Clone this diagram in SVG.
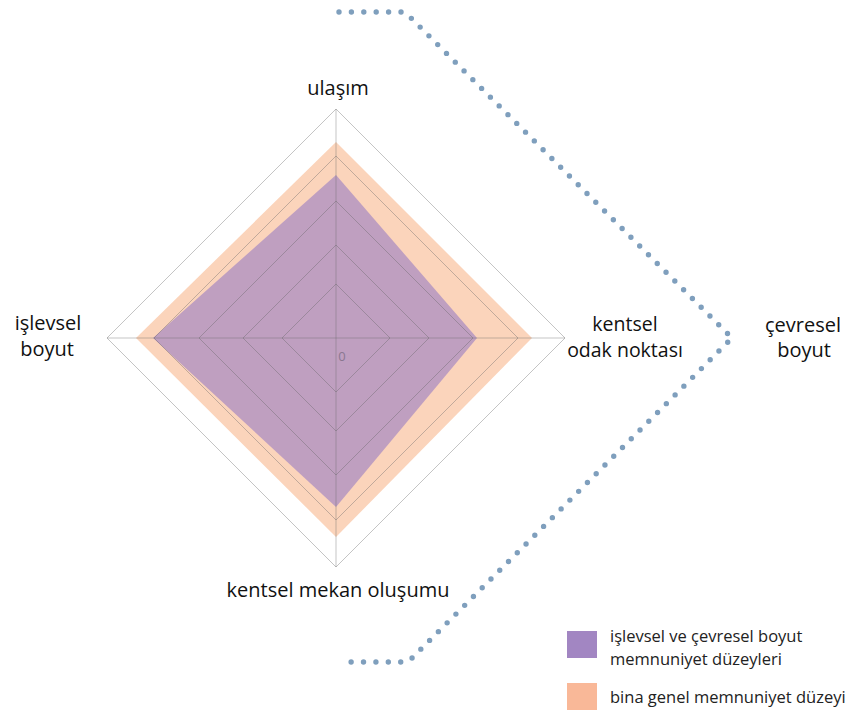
<svg xmlns="http://www.w3.org/2000/svg" width="847" height="711" viewBox="0 0 847 711">
<style>
.lbl{font-family:"Open Sans","Liberation Sans",sans-serif;font-size:20px;fill:#111;text-anchor:middle}
.leg{font-family:"Open Sans","Liberation Sans",sans-serif;font-size:16.5px;fill:#222}
.grid{fill:none;stroke:#646464;stroke-opacity:0.38;stroke-width:1}
.dots{fill:none;stroke:#7f9fbd;stroke-width:5.4;stroke-linecap:round;stroke-dasharray:0 12.4}
</style>
<rect width="847" height="711" fill="#fff"/>
<g id="chart">
<polygon id="series-bina" points="336,142 532,338 336,537 136,338" fill="#fbd4bb"/>
<polygon id="series-islevsel" points="336,175 477,338 336,507 153,338" fill="#bf9fc0"/>
<g id="grid">
<polygon class="grid" points="336,284 390,338 336,392 282,338"/>
<polygon class="grid" points="336,245 429,338 336,431 243,338"/>
<polygon class="grid" points="336,201 473,338 336,475 199,338"/>
<polygon class="grid" points="336,156 518,338 336,520 154,338"/>
<polygon class="grid" points="336,109 565,338 336,567 107,338"/>
<line class="grid" x1="336" y1="338" x2="336" y2="109"/>
<line class="grid" x1="336" y1="338" x2="565" y2="338"/>
<line class="grid" x1="336" y1="338" x2="336" y2="567"/>
<line class="grid" x1="336" y1="338" x2="107" y2="338"/>
</g>
<text x="342" y="361" font-family="Open Sans, Liberation Sans, sans-serif" font-size="13" fill="#8a7790" text-anchor="middle">0</text>
</g>
<g id="label-ulasim"><text class="lbl" x="338" y="95">ulaşım</text></g>
<g id="label-kentsel-odak"><text class="lbl" x="625" y="331" style="font-size:19.5px">kentsel</text><text class="lbl" x="625" y="357" style="font-size:19.5px">odak noktası</text></g>
<g id="label-kentsel-mekan"><text class="lbl" x="338" y="597">kentsel mekan oluşumu</text></g>
<g id="label-islevsel"><text class="lbl" x="48" y="330">işlevsel</text><text class="lbl" x="47" y="356">boyut</text></g>
<g id="label-cevresel"><text class="lbl" x="803" y="332">çevresel</text><text class="lbl" x="804" y="357">boyut</text></g>
<g id="connectors">
<path class="dots" d="M339,12 H400 Q405,12 409,16 L732,338 L411,659 Q407,662 402,662 H341"/>
</g>
<g id="legend">
<g id="legend-purple"><rect x="567" y="631" width="30" height="27" fill="#a286c2"/><text class="leg" x="610" y="642">işlevsel ve çevresel boyut</text><text class="leg" x="610" y="665">memnuniyet düzeyleri</text></g>
<g id="legend-orange"><rect x="567" y="683" width="30" height="27" fill="#f9b898"/><text class="leg" x="610" y="703">bina genel memnuniyet düzeyi</text></g>
</g>
</svg>
